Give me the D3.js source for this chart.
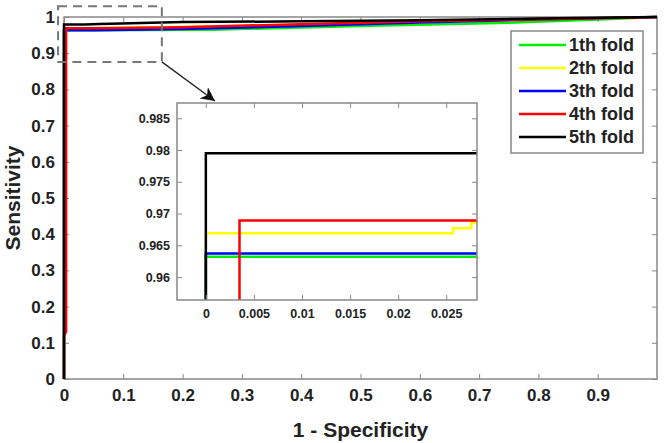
<!DOCTYPE html>
<html>
<head>
<meta charset="utf-8">
<script src="https://cdn.jsdelivr.net/npm/d3@7"></script>
<style>
  body { margin: 0; background: #fff; }
  svg { font-family: "Liberation Sans", Arial, sans-serif; font-weight: bold; }
  .tick text { fill: #222; }
  .tick line { stroke: #888; }
</style>
</head>
<body>
<svg id="chart" width="666" height="443"></svg>
<script>
// ROC curves, [1 - specificity, sensitivity]
const folds = ['1th fold', '2th fold', '3th fold', '4th fold', '5th fold'];
const foldColors = ['#00ee00', '#ffff00', '#0000ff', '#ff0000', '#000000'];

const fold1 = [[0, 0], [0, 0.9632], [0.05, 0.9632], [0.25, 0.965], [0.5, 0.975], [0.75, 0.984], [0.9, 0.993], [1, 1]];
const fold2 = [[0, 0], [0, 0.9669], [0.0257, 0.9669], [0.0257, 0.9677], [0.0276, 0.9677], [0.0276, 0.9686],
               [0.1, 0.97], [0.3, 0.975], [0.5, 0.982], [0.7, 0.99], [1, 1]];
const fold3 = [[0, 0], [0, 0.9637], [0.05, 0.9637], [0.2, 0.967], [0.4, 0.975], [0.6, 0.985], [0.8, 0.993], [1, 1]];
const fold4 = [[0, 0], [0, 0.12], [0.0035, 0.13], [0.0035, 0.9689], [0.05, 0.9689], [0.2, 0.972],
               [0.4, 0.98], [0.6, 0.988], [0.8, 0.994], [1, 1]];
const fold5 = [[0, 0], [0, 0.9795], [0.035, 0.9795], [0.06, 0.981], [0.2, 0.986], [0.4, 0.988],
               [0.6, 0.991], [0.8, 0.996], [1, 1]];
const series = [fold1, fold2, fold3, fold4, fold5];

const xTicks = [0, 0.1, 0.2, 0.3, 0.4, 0.5, 0.6, 0.7, 0.8, 0.9];
const yTicks = [0, 0.1, 0.2, 0.3, 0.4, 0.5, 0.6, 0.7, 0.8, 0.9, 1];
const insetXTicks = [0, 0.005, 0.01, 0.015, 0.02, 0.025];
const insetYTicks = [0.96, 0.965, 0.97, 0.975, 0.98, 0.985];
const zoomBox = { x0: -0.010, x1: 0.165, y0: 0.876, y1: 1.03 };

const svg = d3.select('#chart');

// Main axes
const main = { left: 64, right: 657, top: 17, bottom: 379 };
const x = d3.scaleLinear().domain([0, 1]).range([main.left, main.right]);
const y = d3.scaleLinear().domain([0, 1]).range([main.bottom, main.top]);

const fmt = d => d3.format('~g')(d);

function drawAxes(g, xs, ys, box, xt, yt, fontSize, padX, padY) {
    g.append('g')
        .attr('transform', `translate(0,${box.bottom})`)
        .call(d3.axisBottom(xs).tickValues(xt).tickSize(-5).tickPadding(padX).tickFormat(fmt))
        .call(a => a.select('.domain').remove())
        .selectAll('text').style('font-size', fontSize + 'px');
    g.append('g')
        .attr('transform', `translate(${box.left},0)`)
        .call(d3.axisLeft(ys).tickValues(yt).tickSize(-5).tickPadding(padY).tickFormat(fmt))
        .call(a => a.select('.domain').remove())
        .selectAll('text').style('font-size', fontSize + 'px');
    g.append('g')
        .attr('transform', `translate(0,${box.top})`)
        .call(d3.axisTop(xs).tickValues(xt).tickSize(-5).tickFormat(''))
        .call(a => a.select('.domain').remove());
    g.append('g')
        .attr('transform', `translate(${box.right},0)`)
        .call(d3.axisRight(ys).tickValues(yt).tickSize(-5).tickFormat(''))
        .call(a => a.select('.domain').remove());
    g.append('rect')
        .attr('x', box.left).attr('y', box.top)
        .attr('width', box.right - box.left).attr('height', box.bottom - box.top)
        .attr('fill', 'none').attr('stroke', '#888').attr('stroke-width', 1.5);
}

const mainG = svg.append('g');
drawAxes(mainG, x, y, main, xTicks, yTicks, 17, 10, 9);

const line = d3.line().x(d => x(d[0])).y(d => y(d[1]));
series.forEach((s, i) => {
    mainG.append('path')
        .attr('d', line(s))
        .attr('fill', 'none')
        .attr('stroke', foldColors[i])
        .attr('stroke-width', 2.5);
});

// Axis titles
svg.append('text')
    .attr('x', (main.left + main.right) / 2)
    .attr('y', 437)
    .attr('text-anchor', 'middle')
    .style('font-size', '21px')
    .style('fill', '#222')
    .text('1 - Specificity');

svg.append('text')
    .attr('transform', `translate(20,${(main.top + main.bottom) / 2}) rotate(-90)`)
    .attr('text-anchor', 'middle')
    .style('font-size', '21px')
    .style('fill', '#222')
    .text('Sensitivity');

// Zoom region and arrow
svg.append('rect')
    .attr('x', x(zoomBox.x0)).attr('y', y(zoomBox.y1))
    .attr('width', x(zoomBox.x1) - x(zoomBox.x0))
    .attr('height', y(zoomBox.y0) - y(zoomBox.y1))
    .attr('fill', 'none')
    .attr('stroke', '#777')
    .attr('stroke-width', 2)
    .attr('stroke-dasharray', '9,6');

svg.append('defs').append('marker')
    .attr('id', 'arrow')
    .attr('viewBox', '0 0 10 10')
    .attr('refX', 10).attr('refY', 5)
    .attr('markerWidth', 14).attr('markerHeight', 14)
    .attr('markerUnits', 'userSpaceOnUse')
    .attr('orient', 'auto')
    .append('path')
    .attr('d', 'M0,0 L10,5 L0,10 L3,5 Z')
    .attr('fill', '#111');

svg.append('line')
    .attr('x1', x(zoomBox.x1)).attr('y1', y(zoomBox.y0))
    .attr('x2', 215).attr('y2', 101)
    .attr('stroke', '#222')
    .attr('stroke-width', 1.3)
    .attr('marker-end', 'url(#arrow)');

// Inset
const inset = { left: 177, right: 477, top: 103, bottom: 300 };
const ix = d3.scaleLinear().domain([-0.003, 0.0282]).range([inset.left, inset.right]);
const iy = d3.scaleLinear().domain([0.9564, 0.9874]).range([inset.bottom, inset.top]);

const insetG = svg.append('g');
insetG.append('rect')
    .attr('x', inset.left).attr('y', inset.top)
    .attr('width', inset.right - inset.left).attr('height', inset.bottom - inset.top)
    .attr('fill', '#fff');

insetG.append('clipPath').attr('id', 'insetClip')
    .append('rect')
    .attr('x', inset.left).attr('y', inset.top)
    .attr('width', inset.right - inset.left).attr('height', inset.bottom - inset.top);

const iline = d3.line().x(d => ix(d[0])).y(d => iy(d[1]));
const insetLines = insetG.append('g').attr('clip-path', 'url(#insetClip)');
series.forEach((s, i) => {
    insetLines.append('path')
        .attr('d', iline(s))
        .attr('fill', 'none')
        .attr('stroke', foldColors[i])
        .attr('stroke-width', 2.5);
});

drawAxes(insetG, ix, iy, inset, insetXTicks, insetYTicks, 12.5, 9, 7);

// Legend
const legend = svg.append('g');
legend.append('rect')
    .attr('x', 511).attr('y', 31)
    .attr('width', 132).attr('height', 122)
    .attr('fill', '#fff')
    .attr('stroke', '#888')
    .attr('stroke-width', 1.5);

folds.forEach((f, i) => {
    const row = legend.append('g')
        .attr('transform', `translate(519,${45 + i * 23})`);
    row.append('line')
        .attr('x1', 0).attr('x2', 47)
        .attr('stroke', foldColors[i])
        .attr('stroke-width', 2.5);
    row.append('text')
        .attr('x', 50)
        .attr('dy', '0.35em')
        .style('font-size', '18px')
        .style('fill', '#222')
        .text(f);
});
</script>
</body>
</html>
